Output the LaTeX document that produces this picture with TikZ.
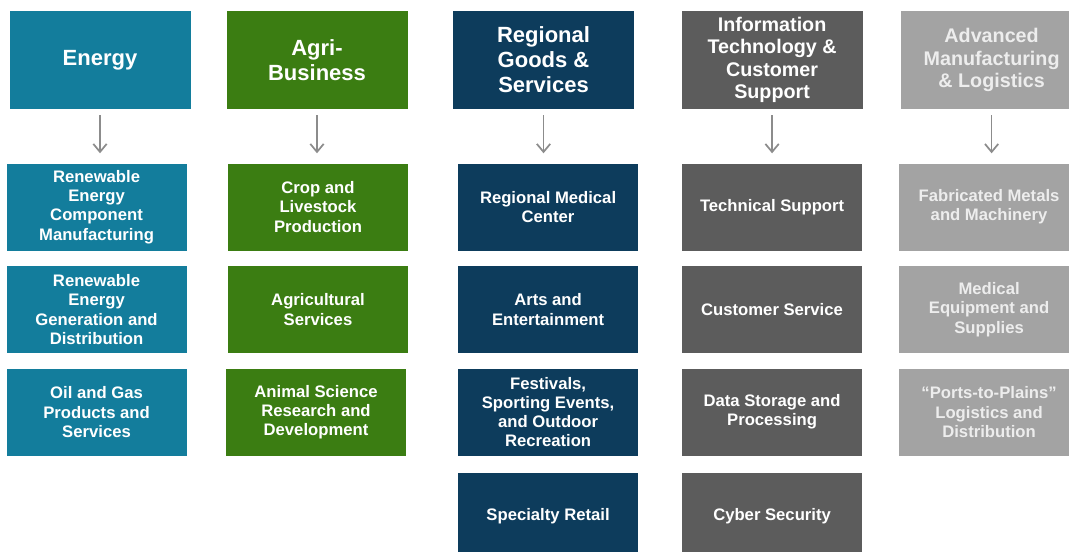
\documentclass[tikz,border=0pt]{standalone}
\usepackage{fontspec}
\setmainfont{Liberation Sans}
\usepackage{xcolor}
\usepackage{tikz}
\usetikzlibrary{positioning, arrows.meta}

\definecolor{cEn}{HTML}{137D9C}
\definecolor{cAg}{HTML}{3B7D12}
\definecolor{cRg}{HTML}{0D3C5C}
\definecolor{cIt}{HTML}{5C5C5C}
\definecolor{cAm}{HTML}{A3A3A3}
\definecolor{cArr}{HTML}{8C8C8C}

\begin{document}
\begin{tikzpicture}[x=0.75pt, y=-0.75pt, >={Straight Barb[length=6pt, width=10pt]},
  box/.style={align=center, text=white, inner xsep=3pt, inner ysep=0pt},
  hd/.style={box, minimum width=135.75pt, minimum height=73.5pt, font=\fontsize{16.5}{18.75}\selectfont\bfseries},
  hdsm/.style={hd, font=\fontsize{14.8}{16.7}\selectfont\bfseries},
  sb/.style={box, minimum width=135pt, minimum height=65.25pt, font=\fontsize{12.5}{14.4}\selectfont\bfseries},
  link/.style={->, draw=cArr, line width=1.3pt, shorten <=4.5pt, shorten >=7.5pt}]
\clip (0,0) rectangle (1069,552);
\fill[white] (0,0) rectangle (1069,552);
% sector headers
\node[hd, fill=cEn] (en) at (100,60) {Energy};
\node[hd, fill=cAg, right=26.6pt of en] (ag) {Agri-\\Business};
\node[hd, fill=cRg, right=33.75pt of ag] (rg) {Regional\\Goods \&\\Services};
\node[hdsm, fill=cIt, right=35.25pt of rg] (it) {Information\\Technology \&\\Customer\\Support};
\node[hdsm, fill=cAm, text=white!93!black, right=28.5pt of it] (am) {Advanced\\Manufacturing\\\& Logistics};
% energy
\node[sb, fill=cEn, below=40.5pt of en, xshift=-2.6pt] (en1) {Renewable\\Energy\\Component\\Manufacturing};
\node[sb, fill=cEn, below=11.25pt of en1] (en2) {Renewable\\Energy\\Generation and\\Distribution};
\node[sb, fill=cEn, below=11.25pt of en2] (en3) {Oil and Gas\\Products and\\Services};
% agri-business
\node[sb, fill=cAg, below=40.5pt of ag, xshift=0.75pt] (ag1) {Crop and\\Livestock\\Production};
\node[sb, fill=cAg, below=11.25pt of ag1] (ag2) {Agricultural\\Services};
\node[sb, fill=cAg, below=11.25pt of ag2, xshift=-1.5pt] (ag3) {Animal Science\\Research and\\Development};
% regional goods
\node[sb, fill=cRg, below=40.5pt of rg, xshift=3.4pt] (rg1) {Regional Medical\\Center};
\node[sb, fill=cRg, below=11.25pt of rg1] (rg2) {Arts and\\Entertainment};
\node[sb, fill=cRg, below=11.25pt of rg2] (rg3) {Festivals,\\Sporting Events,\\and Outdoor\\Recreation};
\node[sb, fill=cRg, below=12.75pt of rg3] (rg4) {Specialty Retail};
% information technology
\node[sb, fill=cIt, below=40.5pt of it] (it1) {Technical Support};
\node[sb, fill=cIt, below=11.25pt of it1] (it2) {Customer Service};
\node[sb, fill=cIt, below=11.25pt of it2] (it3) {Data Storage and\\Processing};
\node[sb, fill=cIt, below=12.75pt of it3] (it4) {Cyber Security};
% advanced manufacturing
\node[sb, fill=cAm, text=white!93!black, below=40.5pt of am, xshift=-1.9pt] (am1) {Fabricated Metals\\and Machinery};
\node[sb, fill=cAm, text=white!93!black, below=11.25pt of am1] (am2) {Medical\\Equipment and\\Supplies};
\node[sb, fill=cAm, text=white!93!black, below=11.25pt of am2] (am3) {“Ports-to-Plains”\\Logistics and\\Distribution};
% arrows
\draw[link] (en.south) -- (en.south |- en1.north);
\draw[link] (ag.south) -- (ag.south |- ag1.north);
\draw[link] (rg.south) -- (rg.south |- rg1.north);
\draw[link] (it.south) -- (it.south |- it1.north);
\draw[link] (am.south) -- (am.south |- am1.north);
\end{tikzpicture}
\end{document}
